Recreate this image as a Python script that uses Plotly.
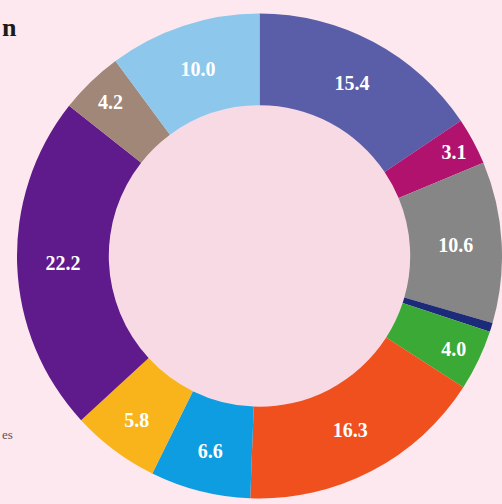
import plotly.graph_objects as go

labels = ["A", "B", "C", "D", "E", "F", "G", "H", "I", "J", "K"]
values = [15.4, 3.1, 10.6, 0.6, 4.0, 16.3, 6.6, 5.8, 22.2, 4.2, 10.0]
texts = ["15.4", "3.1", "10.6", "", "4.0", "16.3", "6.6", "5.8", "22.2", "4.2", "10.0"]
colors = ["#5a5ea8", "#b0126e", "#868686", "#1c2a7a", "#3aa935", "#f0501e",
          "#0d9de0", "#f8b41a", "#5f1a8b", "#a18777", "#8dc8ec"]

W, H = 502, 504
cx, cy = 260, 256   # pixel centre (from top)
R = 243
hole_r = 151

fig = go.Figure(go.Pie(
    labels=labels,
    values=values,
    text=texts,
    textinfo="text",
    hoverinfo="label+value",
    sort=False,
    direction="clockwise",
    rotation=0,
    hole=hole_r / R,
    marker=dict(colors=colors, line=dict(width=0)),
    textposition="inside",
    insidetextorientation="horizontal",
    textfont=dict(family="Liberation Serif, DejaVu Serif, serif", size=20, color="white", weight="bold"),
    domain=dict(x=[(cx - R) / W, 1.0], y=[(H - cy - R) / H, (H - cy + R) / H]),
    showlegend=False,
))

fig.add_shape(type="circle", xref="paper", yref="paper",
              x0=(cx - hole_r) / W, x1=(cx + hole_r) / W,
              y0=(H - cy - hole_r) / H, y1=(H - cy + hole_r) / H,
              fillcolor="#f8dae4", line=dict(width=0), layer="below")

fig.add_annotation(text="<b>n</b>", x=0, y=1 - 27 / H, xref="paper", yref="paper",
                   xanchor="left", yanchor="middle", showarrow=False,
                   font=dict(family="Liberation Serif, DejaVu Serif, serif", size=26, color="#1a1a1a"))
fig.add_annotation(text="es", x=0, y=1 - 434 / H, xref="paper", yref="paper",
                   xanchor="left", yanchor="middle", showarrow=False,
                   font=dict(family="Liberation Serif, DejaVu Serif, serif", size=13, color="#555555"))

fig.update_layout(
    width=W, height=H,
    margin=dict(l=0, r=0, t=0, b=0),
    paper_bgcolor="#fce8ee",
    plot_bgcolor="#fce8ee",
)

fig.write_html(
    "out.html",
    config={"displayModeBar": False},
    post_script="document.body.style.margin='0';document.body.style.overflow='hidden';"
                "document.body.style.background='#fce8ee';",
)
